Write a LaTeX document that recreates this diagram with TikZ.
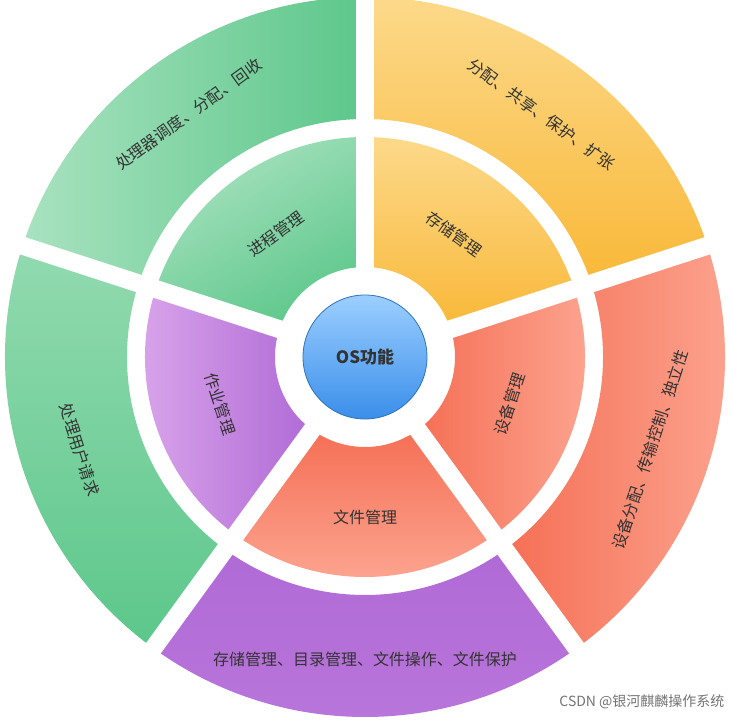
\documentclass[tikz,border=0pt]{standalone}
\usepackage{fontspec}
\newfontfamily\cjk{Noto Sans CJK SC}
\usepackage{xcolor}
\definecolor{grnA}{HTML}{A9E2C0}
\definecolor{grnB}{HTML}{5CC78A}
\definecolor{ylwA}{HTML}{FCD98A}
\definecolor{ylwB}{HTML}{F9B838}
\definecolor{redA}{HTML}{FDA894}
\definecolor{redB}{HTML}{F56F55}
\definecolor{purA}{HTML}{DCA8EC}
\definecolor{purB}{HTML}{B06AD6}
\definecolor{bluA}{HTML}{9CCFFF}
\definecolor{bluB}{HTML}{3A8EEA}

\tikzset{
  seclabel/.style={font=\cjk\fontsize{16}{16}\selectfont, text=black!80},
  gapline/.style={white, line width=18pt},
}
% annular sector: #1 start angle, #2 end angle, #3 inner radius, #4 outer radius
\newcommand{\ringsector}[5]{%
  \path[#5] (#1:#3) arc[start angle=#1, end angle=#2, radius=#3]
    -- (#2:#4) arc[start angle=#2, end angle=#1, radius=#4] -- cycle;}

\begin{document}
\begin{tikzpicture}[x=1pt,y=1pt]
		\useasboundingbox (0,0) rectangle (732,720);
		\begin{scope}[shift={(365,363)}]
			% inner ring
			\ringsector{90}{162}{90}{220}{right color=grnB, left color=grnA, shading angle=30}
			\ringsector{18}{90}{90}{220}{top color=ylwA, bottom color=ylwB}
			\ringsector{-54}{18}{90}{220}{left color=redB, right color=redA}
			\ringsector{-126}{-54}{90}{220}{top color=redB, bottom color=redA}
			\ringsector{162}{234}{90}{220}{left color=purA, right color=purB}
			% outer ring
			\ringsector{90}{162}{238}{360}{left color=grnA, right color=grnB}
			\ringsector{18}{90}{238}{360}{top color=ylwA, bottom color=ylwB}
			\ringsector{-54}{18}{238}{360}{right color=redA, left color=redB}
			\ringsector{-126}{-54}{238}{360}{top color=purB, bottom color=purB!80!purA}
			\ringsector{162}{234}{238}{360}{top color=grnA!70!grnB, bottom color=grnB}
			% gaps
			\foreach \ang in {18,90,162,234,306}
				\draw[gapline] (0,0) -- (\ang:370);
			% center
			\node[circle, minimum size=124pt, draw=bluB!80!black, line width=0.8pt,
				top color=bluA, bottom color=bluB, font=\cjk\bfseries\fontsize{17}{17}\selectfont,
				text=black!80] (osfunc) at (0,0) {OS功能};
			% inner labels
			\node[seclabel, rotate=36] (proc) at (126:152) {进程管理};
			\node[seclabel, rotate=-36] (mem) at (54:152) {存储管理};
			\node[seclabel, rotate=72] (dev) at (-18:152) {设备管理};
			\node[seclabel] (file) at (-90:160) {文件管理};
			\node[seclabel, rotate=-72] (job) at (198:152) {作业管理};
			% outer labels
			\node[seclabel, rotate=36] (procout) at (126:300) {处理器调度、分配、回收};
			\node[seclabel, rotate=-36] (memout) at (54:300) {分配、共享、保护、扩张};
			\node[seclabel, rotate=72] (devout) at (-18:300) {设备分配、传输控制、独立性};
			\node[seclabel] (fileout) at (-90:302) {存储管理、目录管理、文件操作、文件保护};
			\node[seclabel, rotate=-72] (jobout) at (198:300) {处理用户请求};
		\end{scope}
		\node[font=\cjk\fontsize{14}{14}\selectfont, text=black!55, anchor=east] (mark) at (728,18) {CSDN @银河麒麟操作系统};
	\end{tikzpicture}
\end{document}
